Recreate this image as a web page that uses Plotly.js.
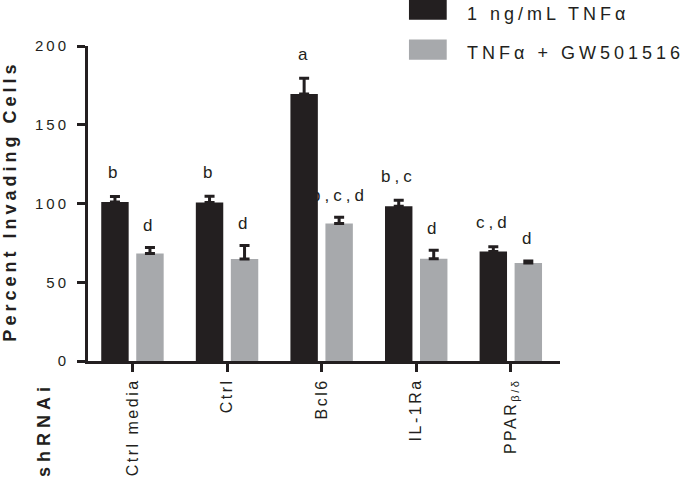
<!DOCTYPE html>
<html>
<head>
<meta charset="utf-8">
<script src="https://cdn.plot.ly/plotly-3.0.1.min.js"></script>
<style>
  body { margin: 0; background: #fff; }
  #chart { width: 682px; height: 479px; }
</style>
</head>
<body>
<div id="chart"></div>
<script>
// shRNAi groups on the x axis
var groups = ['Ctrl media', 'Ctrl', 'Bcl6', 'IL-1Ra', 'PPAR<sub>\u03b2/\u03b4</sub>'];

// 1 ng/mL TNFa
var tnf_mean = [101, 100.6, 169.6, 98.2, 69.5];
var tnf_err  = [3.5, 4, 10, 3.8, 3];
var tnf_sig  = ['b', 'b', 'a', 'b,c', 'c,d'];

// TNFa + GW501516
var gw_mean = [68.2, 64.8, 87.3, 65, 62.3];
var gw_err  = [3.8, 8.5, 4, 5.3, 1.2];
var gw_sig  = ['d', 'd', 'b,c,d', 'd', 'd'];

var y_ticks = [0, 50, 100, 150, 200];

var series_names = ['1 ng/mL TNF\u03b1', 'TNF\u03b1 + GW501516'];

var ink = '#231f20';
var grey = '#a7a9ac';
var font = 'Liberation Sans, Arial, Helvetica, sans-serif';

var bar_w = 0.29;
var offs = [-0.33, 0.04];

// the figure uses widely tracked type
function spaced(txt, px) { return '<span style="letter-spacing:' + px + 'px">' + txt + '</span>'; }
function zeros(n) { return Array(n).fill(0); }

var tnf_trace = {
    name: series_names[0], type: 'bar', x: groups, y: tnf_mean,
    width: bar_w, offset: offs[0],
    marker: { color: ink, line: { width: 0 } },
    error_y: { type: 'data', symmetric: false, array: tnf_err, arrayminus: zeros(tnf_err.length),
               color: ink, thickness: 3, width: 5 },
    showlegend: false
};
var gw_trace = {
    name: series_names[1], type: 'bar', x: groups, y: gw_mean,
    width: bar_w, offset: offs[1],
    marker: { color: grey, line: { width: 0 } },
    error_y: { type: 'data', symmetric: false, array: gw_err, arrayminus: zeros(gw_err.length),
               color: ink, thickness: 3, width: 5 },
    showlegend: false
};

var annotations = [
    { text: '<b>' + spaced('Percent Invading Cells', 4) + '</b>', xref: 'paper', yref: 'paper',
      x: -0.166, y: 0.508, xanchor: 'center', yanchor: 'middle', textangle: -90, showarrow: false,
      font: { family: font, size: 18, color: ink } },
    { text: '<b>' + spaced('shRNAi', 5) + '</b>', xref: 'paper', yref: 'paper',
      x: -0.093, y: -0.219, xanchor: 'center', yanchor: 'middle', textangle: -90, showarrow: false,
      font: { family: font, size: 18, color: ink } },
    { text: spaced(series_names[0], 4), xref: 'paper', yref: 'paper', x: 0.799, y: 1.102,
      xanchor: 'left', yanchor: 'middle', showarrow: false, font: { family: font, size: 18, color: ink } },
    { text: spaced(series_names[1], 4), xref: 'paper', yref: 'paper', x: 0.799, y: 0.979,
      xanchor: 'left', yanchor: 'middle', showarrow: false, font: { family: font, size: 18, color: ink } }
];

// significance letters above each bar
for (let i = 0; i < groups.length; i++) {
    annotations.push({ text: spaced(tnf_sig[i], 4), x: i + offs[0] + bar_w / 2, y: tnf_mean[i] + tnf_err[i],
        xanchor: 'center', yanchor: 'middle', yshift: 24, showarrow: false,
        font: { family: font, size: 17, color: ink } });
    annotations.push({ text: spaced(gw_sig[i], 4), x: i + offs[1] + bar_w / 2, y: gw_mean[i] + gw_err[i],
        xanchor: 'center', yanchor: 'middle', yshift: 22, showarrow: false,
        font: { family: font, size: 17, color: ink } });
}

// legend swatches
var shapes = [
    { type: 'rect', xref: 'paper', yref: 'paper', x0: 0.68, x1: 0.76, y0: 1.083, y1: 1.146,
      fillcolor: ink, line: { width: 0 } },
    { type: 'rect', xref: 'paper', yref: 'paper', x0: 0.68, x1: 0.76, y0: 0.956, y1: 1.021,
      fillcolor: grey, line: { width: 0 } }
];

var layout = {
    width: 682, height: 479,
    margin: { l: 88, r: 122, t: 46, b: 118 },
    paper_bgcolor: '#fff', plot_bgcolor: '#fff',
    font: { family: font, color: ink },
    xaxis: {
        type: 'category', range: [-0.47, 4.52],
        tickvals: groups, ticktext: groups.map(g => spaced(g, 2.5)),
        showline: true, linecolor: ink, linewidth: 3,
        ticks: 'outside', ticklen: 8, tickwidth: 3, tickcolor: ink,
        tickangle: -90, tickfont: { family: font, size: 16, color: ink },
        showgrid: false, zeroline: false, fixedrange: true
    },
    yaxis: {
        range: [0, 200], tickvals: y_ticks, ticktext: y_ticks.map(v => spaced(String(v), 3)),
        showline: true, linecolor: ink, linewidth: 3,
        ticks: 'outside', ticklen: 8, tickwidth: 3, tickcolor: ink, ticklabelstandoff: 5,
        tickfont: { family: font, size: 15, color: ink },
        showgrid: false, zeroline: false, fixedrange: true
    },
    annotations: annotations,
    shapes: shapes,
    showlegend: false
};

Plotly.newPlot('chart', [tnf_trace, gw_trace], layout, { staticPlot: true });
</script>
</body>
</html>
